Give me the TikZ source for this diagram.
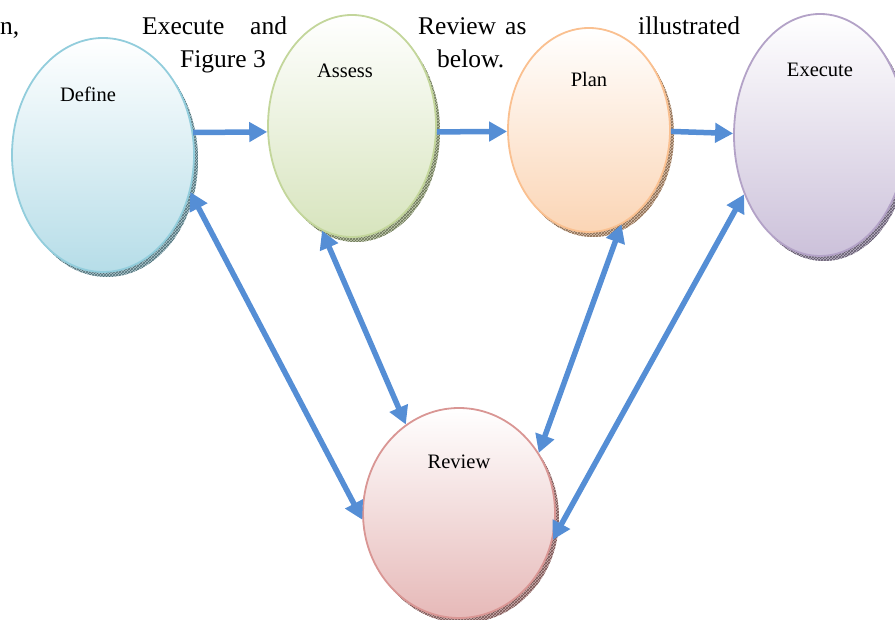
\documentclass[tikz,border=0pt]{standalone}
\usepackage{fontspec}
\setmainfont{Liberation Serif}
\usepackage{xcolor}
\usetikzlibrary{arrows.meta, positioning, calc, shapes.geometric, patterns}

\definecolor{arrowblue}{HTML}{558ED5}
\definecolor{defineline}{HTML}{92CDDC}
\definecolor{definefill}{HTML}{B6DDE8}
\definecolor{assessline}{HTML}{C3D69B}
\definecolor{assessfill}{HTML}{D7E4BD}
\definecolor{planline}{HTML}{FAC090}
\definecolor{planfill}{HTML}{FBD5B5}
\definecolor{executeline}{HTML}{B3A2C7}
\definecolor{executefill}{HTML}{CCC1DA}
\definecolor{reviewline}{HTML}{D99694}
\definecolor{reviewfill}{HTML}{E6B9B8}

\begin{document}
\begin{tikzpicture}[x=1pt, y=1pt,
	phase/.style 2 args={ellipse, inner sep=0pt, line width=1.8pt, draw=#1,
		top color=white, bottom color=#2,
		preaction={fill=#1!60!gray!70, transform canvas={shift={(4pt,-5pt)}}},
		preaction={pattern=crosshatch, pattern color=#1!55!black, transform canvas={shift={(4pt,-5pt)}}}},
	tag/.style={font=\fontsize{20.5}{24}\selectfont},
	body/.style={anchor=base west, inner sep=0pt, font=\fontsize{25.5}{30}\selectfont},
	flow/.style={line width=5.5pt, arrowblue, -{Triangle[length=18pt,width=19pt]}},
	twoway/.style={line width=5.5pt, arrowblue, {Triangle[length=18pt,width=19pt]}-{Triangle[length=18pt,width=19pt]}}]
		\clip (0,0) rectangle (895,620);
		
		% Running text behind the figure
		\node[body] (w1) at (0,585) {n,};
		\node[body] (w2) at (142,585) {Execute};
		\node[body] (w3) at (250,585) {and};
		\node[body] (w4) at (418,585) {Review};
		\node[body] (w5) at (505,585) {as};
		\node[body] (w6) at (638,585) {illustrated};
		\node[body] (w7) at (180,552) {Figure 3};
		\node[body] (w8) at (437,552) {below.};
		
		% Phases
		\node[phase={defineline}{definefill}, minimum width=182pt, minimum height=234pt] (define) at (103,465) {};
		\node[phase={assessline}{assessfill}, minimum width=168pt, minimum height=222pt] (assess) at (352,494) {};
		\node[phase={planline}{planfill}, minimum width=162pt, minimum height=204pt] (plan) at (589,490) {};
		\node[phase={executeline}{executefill}, minimum width=172pt, minimum height=242pt] (execute) at (820,485) {};
		\node[phase={reviewline}{reviewfill}, minimum width=192pt, minimum height=210pt] (review) at (459,107) {};
		
		\node[tag, below=46pt of define.north, xshift=-15pt] (definetxt) {Define};
		\node[tag, below=46pt of assess.north, xshift=-7pt] (assesstxt) {Assess};
		\node[tag, below=42pt of plan.north] (plantxt) {Plan};
		\node[tag, below=46pt of execute.north] (executetxt) {Execute};
		\node[tag, below=44pt of review.north] (reviewtxt) {Review};
		
		% Forward steps
		\draw[flow] (define.14) -- (assess.184);
		\draw[flow] (assess.-4) -- (plan.181);
		\draw[flow] (plan.-1) -- (execute.179);
		
		% Links with the review
		\draw[twoway] (define.-23) -- (review.184);
		\draw[twoway] (assess.254) -- (review.121);
		\draw[twoway] (plan.289) -- (review.37);
		\draw[twoway] (execute.218) -- (review.-16);
	\end{tikzpicture}
\end{document}
